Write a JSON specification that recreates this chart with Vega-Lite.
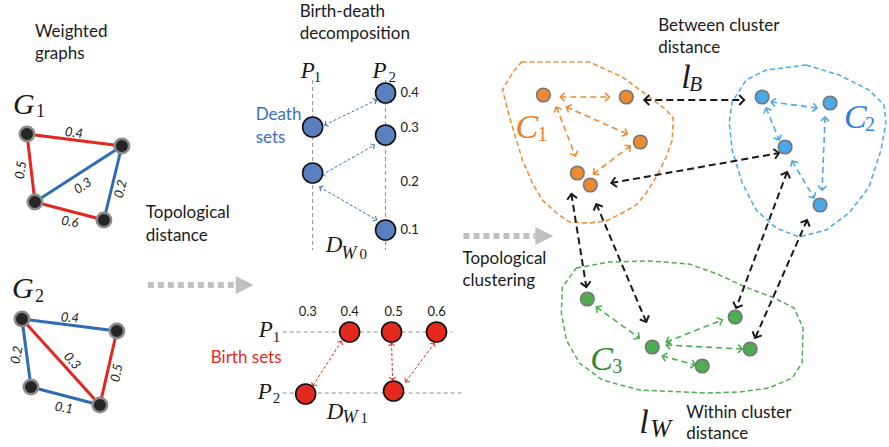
{
  "$schema": "https://vega.github.io/schema/vega-lite/v6.json",
  "width": 889,
  "height": 447,
  "padding": 0,
  "autosize": {"type": "fit", "contains": "padding"},
  "background": "white",
  "config": {"view": {"stroke": null}},
  "datasets": {
    "outlines": [
      {"cl": "C1", "col": "orange", "o": 1, "x": 522, "y": 62},
      {"cl": "C1", "col": "orange", "o": 2, "x": 590, "y": 62},
      {"cl": "C1", "col": "orange", "o": 3, "x": 623, "y": 77},
      {"cl": "C1", "col": "orange", "o": 4, "x": 650, "y": 97},
      {"cl": "C1", "col": "orange", "o": 5, "x": 667, "y": 110},
      {"cl": "C1", "col": "orange", "o": 6, "x": 674, "y": 118},
      {"cl": "C1", "col": "orange", "o": 7, "x": 673, "y": 140},
      {"cl": "C1", "col": "orange", "o": 8, "x": 667, "y": 157},
      {"cl": "C1", "col": "orange", "o": 9, "x": 657, "y": 177},
      {"cl": "C1", "col": "orange", "o": 10, "x": 647, "y": 193},
      {"cl": "C1", "col": "orange", "o": 11, "x": 637, "y": 205},
      {"cl": "C1", "col": "orange", "o": 12, "x": 623, "y": 213},
      {"cl": "C1", "col": "orange", "o": 13, "x": 607, "y": 221},
      {"cl": "C1", "col": "orange", "o": 14, "x": 590, "y": 223},
      {"cl": "C1", "col": "orange", "o": 15, "x": 570, "y": 222},
      {"cl": "C1", "col": "orange", "o": 16, "x": 557, "y": 213},
      {"cl": "C1", "col": "orange", "o": 17, "x": 543, "y": 200},
      {"cl": "C1", "col": "orange", "o": 18, "x": 533, "y": 183},
      {"cl": "C1", "col": "orange", "o": 19, "x": 523, "y": 160},
      {"cl": "C1", "col": "orange", "o": 20, "x": 517, "y": 140},
      {"cl": "C1", "col": "orange", "o": 21, "x": 510, "y": 117},
      {"cl": "C1", "col": "orange", "o": 22, "x": 505, "y": 97},
      {"cl": "C1", "col": "orange", "o": 23, "x": 503, "y": 90},
      {"cl": "C1", "col": "orange", "o": 24, "x": 513, "y": 73},
      {"cl": "C2", "col": "sky", "o": 1, "x": 807, "y": 65},
      {"cl": "C2", "col": "sky", "o": 2, "x": 840, "y": 75},
      {"cl": "C2", "col": "sky", "o": 3, "x": 870, "y": 90},
      {"cl": "C2", "col": "sky", "o": 4, "x": 885, "y": 105},
      {"cl": "C2", "col": "sky", "o": 5, "x": 887, "y": 122},
      {"cl": "C2", "col": "sky", "o": 6, "x": 882, "y": 150},
      {"cl": "C2", "col": "sky", "o": 7, "x": 870, "y": 187},
      {"cl": "C2", "col": "sky", "o": 8, "x": 850, "y": 213},
      {"cl": "C2", "col": "sky", "o": 9, "x": 827, "y": 230},
      {"cl": "C2", "col": "sky", "o": 10, "x": 800, "y": 237},
      {"cl": "C2", "col": "sky", "o": 11, "x": 777, "y": 228},
      {"cl": "C2", "col": "sky", "o": 12, "x": 757, "y": 210},
      {"cl": "C2", "col": "sky", "o": 13, "x": 743, "y": 183},
      {"cl": "C2", "col": "sky", "o": 14, "x": 733, "y": 150},
      {"cl": "C2", "col": "sky", "o": 15, "x": 730, "y": 123},
      {"cl": "C2", "col": "sky", "o": 16, "x": 733, "y": 102},
      {"cl": "C2", "col": "sky", "o": 17, "x": 747, "y": 80},
      {"cl": "C2", "col": "sky", "o": 18, "x": 767, "y": 70},
      {"cl": "C3", "col": "green", "o": 1, "x": 577, "y": 268},
      {"cl": "C3", "col": "green", "o": 2, "x": 610, "y": 262},
      {"cl": "C3", "col": "green", "o": 3, "x": 650, "y": 261},
      {"cl": "C3", "col": "green", "o": 4, "x": 690, "y": 264},
      {"cl": "C3", "col": "green", "o": 5, "x": 718, "y": 274},
      {"cl": "C3", "col": "green", "o": 6, "x": 746, "y": 287},
      {"cl": "C3", "col": "green", "o": 7, "x": 773, "y": 297},
      {"cl": "C3", "col": "green", "o": 8, "x": 795, "y": 308},
      {"cl": "C3", "col": "green", "o": 9, "x": 804, "y": 328},
      {"cl": "C3", "col": "green", "o": 10, "x": 803, "y": 363},
      {"cl": "C3", "col": "green", "o": 11, "x": 793, "y": 378},
      {"cl": "C3", "col": "green", "o": 12, "x": 770, "y": 388},
      {"cl": "C3", "col": "green", "o": 13, "x": 740, "y": 392},
      {"cl": "C3", "col": "green", "o": 14, "x": 707, "y": 393},
      {"cl": "C3", "col": "green", "o": 15, "x": 640, "y": 390},
      {"cl": "C3", "col": "green", "o": 16, "x": 603, "y": 380},
      {"cl": "C3", "col": "green", "o": 17, "x": 580, "y": 363},
      {"cl": "C3", "col": "green", "o": 18, "x": 567, "y": 340},
      {"cl": "C3", "col": "green", "o": 19, "x": 562, "y": 313},
      {"cl": "C3", "col": "green", "o": 20, "x": 563, "y": 287}
    ],
    "guides": [
      {"x": 313, "y": 80, "x2": 313, "y2": 250},
      {"x": 386, "y": 80, "x2": 386, "y2": 250},
      {"x": 283, "y": 332, "x2": 453, "y2": 332},
      {"x": 283, "y": 393, "x2": 462, "y2": 393}
    ],
    "flows": [
      {"x": 148, "x2": 236, "y": 285},
      {"x": 464, "x2": 536, "y": 236}
    ],
    "edges": [
      {"x": 27, "y": 134, "x2": 122, "y2": 146, "col": "gred"},
      {"x": 27, "y": 134, "x2": 35, "y2": 202, "col": "gred"},
      {"x": 35, "y": 202, "x2": 122, "y2": 146, "col": "gblue"},
      {"x": 122, "y": 146, "x2": 104, "y2": 220, "col": "gblue"},
      {"x": 35, "y": 202, "x2": 104, "y2": 220, "col": "gred"},
      {"x": 22, "y": 319, "x2": 117, "y2": 331, "col": "gblue"},
      {"x": 22, "y": 319, "x2": 31, "y2": 387, "col": "gblue"},
      {"x": 22, "y": 319, "x2": 100, "y2": 405, "col": "gred"},
      {"x": 117, "y": 331, "x2": 100, "y2": 405, "col": "gred"},
      {"x": 31, "y": 387, "x2": 100, "y2": 405, "col": "gblue"}
    ],
    "arrows": [
      {"kind": "between", "col": "ink", "x": 645, "y": 100, "x2": 745, "y2": 100},
      {"kind": "between", "col": "ink", "x": 612, "y": 183, "x2": 780, "y2": 153},
      {"kind": "between", "col": "ink", "x": 572, "y": 194, "x2": 587, "y2": 287},
      {"kind": "between", "col": "ink", "x": 597, "y": 204, "x2": 647, "y2": 322},
      {"kind": "between", "col": "ink", "x": 788, "y": 172, "x2": 737, "y2": 308},
      {"kind": "between", "col": "ink", "x": 808, "y": 220, "x2": 756, "y2": 338},
      {"kind": "within", "col": "orange", "x": 561, "y": 97, "x2": 610, "y2": 97},
      {"kind": "within", "col": "orange", "x": 567, "y": 107, "x2": 628, "y2": 134},
      {"kind": "within", "col": "orange", "x": 557, "y": 107, "x2": 576, "y2": 156},
      {"kind": "within", "col": "orange", "x": 631, "y": 146, "x2": 594, "y2": 174},
      {"kind": "within", "col": "sky", "x": 772, "y": 102, "x2": 818, "y2": 108},
      {"kind": "within", "col": "sky", "x": 767, "y": 108, "x2": 780, "y2": 140},
      {"kind": "within", "col": "sky", "x": 826, "y": 117, "x2": 823, "y2": 190},
      {"kind": "within", "col": "sky", "x": 793, "y": 161, "x2": 815, "y2": 198},
      {"kind": "within", "col": "green", "x": 597, "y": 307, "x2": 640, "y2": 338},
      {"kind": "within", "col": "green", "x": 667, "y": 342, "x2": 723, "y2": 320},
      {"kind": "within", "col": "green", "x": 667, "y": 345, "x2": 743, "y2": 349},
      {"kind": "within", "col": "green", "x": 663, "y": 356, "x2": 696, "y2": 365},
      {"kind": "pair", "col": "deathtxt", "x": 325, "y": 125, "x2": 377, "y2": 100},
      {"kind": "pair", "col": "deathtxt", "x": 322, "y": 175, "x2": 375, "y2": 145},
      {"kind": "pair", "col": "deathtxt", "x": 320, "y": 187, "x2": 377, "y2": 220},
      {"kind": "pair", "col": "birth", "x": 342, "y": 341, "x2": 313, "y2": 386},
      {"kind": "pair", "col": "birth", "x": 392, "y": 343, "x2": 393, "y2": 380},
      {"kind": "pair", "col": "birth", "x": 435, "y": 343, "x2": 406, "y2": 382}
    ],
    "nodes": [
      {"kind": "graph", "col": "gnode", "x": 27, "y": 134},
      {"kind": "graph", "col": "gnode", "x": 122, "y": 146},
      {"kind": "graph", "col": "gnode", "x": 35, "y": 202},
      {"kind": "graph", "col": "gnode", "x": 104, "y": 220},
      {"kind": "graph", "col": "gnode", "x": 22, "y": 319},
      {"kind": "graph", "col": "gnode", "x": 117, "y": 331},
      {"kind": "graph", "col": "gnode", "x": 31, "y": 387},
      {"kind": "graph", "col": "gnode", "x": 100, "y": 405},
      {"kind": "pd", "col": "death", "x": 313, "y": 127},
      {"kind": "pd", "col": "death", "x": 313, "y": 173},
      {"kind": "pd", "col": "death", "x": 386, "y": 93},
      {"kind": "pd", "col": "death", "x": 386, "y": 135},
      {"kind": "pd", "col": "death", "x": 386, "y": 230},
      {"kind": "pd", "col": "birth", "x": 350, "y": 332},
      {"kind": "pd", "col": "birth", "x": 392, "y": 332},
      {"kind": "pd", "col": "birth", "x": 437, "y": 332},
      {"kind": "pd", "col": "birth", "x": 306, "y": 394},
      {"kind": "pd", "col": "birth", "x": 394, "y": 391},
      {"kind": "cluster", "col": "orange", "x": 544, "y": 95},
      {"kind": "cluster", "col": "orange", "x": 627, "y": 97},
      {"kind": "cluster", "col": "orange", "x": 641, "y": 142},
      {"kind": "cluster", "col": "orange", "x": 578, "y": 173},
      {"kind": "cluster", "col": "orange", "x": 591, "y": 185},
      {"kind": "cluster", "col": "sky", "x": 763, "y": 97},
      {"kind": "cluster", "col": "sky", "x": 831, "y": 103},
      {"kind": "cluster", "col": "sky", "x": 786, "y": 147},
      {"kind": "cluster", "col": "sky", "x": 821, "y": 205},
      {"kind": "cluster", "col": "green", "x": 588, "y": 299},
      {"kind": "cluster", "col": "green", "x": 653, "y": 347},
      {"kind": "cluster", "col": "green", "x": 736, "y": 317},
      {"kind": "cluster", "col": "green", "x": 751, "y": 349},
      {"kind": "cluster", "col": "green", "x": 703, "y": 366}
    ],
    "notes": [
      {"role": "caption", "col": "ink", "t": "Weighted", "x": 35, "y": 32},
      {"role": "caption", "col": "ink", "t": "graphs", "x": 35, "y": 54},
      {"role": "caption", "col": "ink", "t": "Birth-death", "x": 300, "y": 12},
      {"role": "caption", "col": "ink", "t": "decomposition", "x": 300, "y": 34},
      {"role": "caption", "col": "ink", "t": "Topological", "x": 146, "y": 213},
      {"role": "caption", "col": "ink", "t": "distance", "x": 146, "y": 236},
      {"role": "caption", "col": "ink", "t": "Between cluster", "x": 659, "y": 26},
      {"role": "caption", "col": "ink", "t": "distance", "x": 659, "y": 48},
      {"role": "caption", "col": "ink", "t": "Topological", "x": 463, "y": 259},
      {"role": "caption", "col": "ink", "t": "clustering", "x": 463, "y": 281},
      {"role": "caption", "col": "ink", "t": "Within cluster", "x": 687, "y": 413},
      {"role": "caption", "col": "ink", "t": "distance", "x": 687, "y": 434},
      {"role": "setname", "col": "deathtxt", "t": "Death", "x": 256, "y": 115},
      {"role": "setname", "col": "deathtxt", "t": "sets", "x": 256, "y": 138},
      {"role": "setname", "col": "birth", "t": "Birth sets", "x": 211, "y": 358},
      {"role": "value", "col": "ink", "t": "0.4", "x": 401, "y": 93},
      {"role": "value", "col": "ink", "t": "0.3", "x": 401, "y": 128},
      {"role": "value", "col": "ink", "t": "0.2", "x": 401, "y": 182},
      {"role": "value", "col": "ink", "t": "0.1", "x": 401, "y": 230},
      {"role": "value", "col": "ink", "t": "0.3", "x": 299, "y": 312},
      {"role": "value", "col": "ink", "t": "0.4", "x": 341, "y": 312},
      {"role": "value", "col": "ink", "t": "0.5", "x": 385, "y": 312},
      {"role": "value", "col": "ink", "t": "0.6", "x": 428, "y": 312}
    ],
    "weights": [
      {"t": "0.4", "x": 74, "y": 133, "rot": 6},
      {"t": "0.5", "x": 21, "y": 170, "rot": -83},
      {"t": "0.3", "x": 83, "y": 186, "rot": -33},
      {"t": "0.2", "x": 121, "y": 189, "rot": -76},
      {"t": "0.6", "x": 70, "y": 222, "rot": 9},
      {"t": "0.4", "x": 70, "y": 318, "rot": 5},
      {"t": "0.2", "x": 17, "y": 355, "rot": -80},
      {"t": "0.3", "x": 72, "y": 361, "rot": 48},
      {"t": "0.5", "x": 117, "y": 373, "rot": -78},
      {"t": "0.1", "x": 64, "y": 408, "rot": 9}
    ],
    "math": [
      {"role": "graph", "col": "ink", "t": "G", "x": 13, "y": 114},
      {"role": "graph", "col": "ink", "t": "G", "x": 12, "y": 298},
      {"role": "graphsub", "col": "ink", "t": "1", "x": 36, "y": 117},
      {"role": "graphsub", "col": "ink", "t": "2", "x": 35, "y": 302},
      {"role": "persist", "col": "ink", "t": "P", "x": 301, "y": 78},
      {"role": "persist", "col": "ink", "t": "P", "x": 373, "y": 78},
      {"role": "persist", "col": "ink", "t": "D", "x": 326, "y": 252},
      {"role": "persist", "col": "ink", "t": "P", "x": 259, "y": 337},
      {"role": "persist", "col": "ink", "t": "P", "x": 258, "y": 399},
      {"role": "persist", "col": "ink", "t": "D", "x": 327, "y": 419},
      {"role": "persistsub", "col": "ink", "t": "1", "x": 314, "y": 82},
      {"role": "persistsub", "col": "ink", "t": "2", "x": 389, "y": 82},
      {"role": "persistsub", "col": "ink", "t": "0", "x": 360, "y": 259},
      {"role": "persistsub", "col": "ink", "t": "1", "x": 273, "y": 342},
      {"role": "persistsub", "col": "ink", "t": "2", "x": 273, "y": 403},
      {"role": "persistsub", "col": "ink", "t": "1", "x": 361, "y": 423},
      {"role": "persistW", "col": "ink", "t": "W", "x": 342, "y": 259},
      {"role": "persistW", "col": "ink", "t": "W", "x": 343, "y": 423},
      {"role": "cluster", "col": "c1", "t": "C", "x": 516, "y": 138},
      {"role": "cluster", "col": "c2", "t": "C", "x": 845, "y": 128},
      {"role": "cluster", "col": "c3", "t": "C", "x": 591, "y": 370},
      {"role": "cluster", "col": "ink", "t": "l", "x": 682, "y": 88},
      {"role": "cluster", "col": "ink", "t": "l", "x": 640, "y": 433},
      {"role": "clustersub", "col": "c1", "t": "1", "x": 538, "y": 141},
      {"role": "clustersub", "col": "c2", "t": "2", "x": 866, "y": 131},
      {"role": "clustersub", "col": "c3", "t": "3", "x": 613, "y": 373},
      {"role": "distB", "col": "ink", "t": "B", "x": 690, "y": 91},
      {"role": "distW", "col": "ink", "t": "W", "x": 651, "y": 437}
    ]
  },
  "encoding": {
    "x": {"field": "x", "type": "quantitative", "scale": {"domain": [0, 889], "nice": false, "zero": false}, "axis": null},
    "y": {"field": "y", "type": "quantitative", "scale": {"domain": [0, 447], "nice": false, "zero": false, "reverse": true}, "axis": null}
  },
  "layer": [
    {
      "data": {"name": "outlines"},
      "mark": {"type": "line", "interpolate": "linear-closed", "strokeDash": [5, 3], "strokeWidth": 1.5},
      "encoding": {
        "color": {"field": "col", "type": "nominal", "legend": null, "scale": {"domain": ["ink", "gnode", "gred", "gblue", "death", "deathtxt", "birth", "orange", "sky", "green", "c1", "c2", "c3"], "range": ["#1a1a1a", "#262626", "#e3261f", "#2e6cb5", "#5b80c0", "#3a6fc2", "#e5281e", "#ee8a2f", "#4aa9e8", "#4dae4f", "#ee7d22", "#2f7ce6", "#2e8a2c"]}},
        "detail": {"field": "cl"},
        "order": {"field": "o", "type": "quantitative"}
      }
    },
    {
      "data": {"name": "guides"},
      "mark": {"type": "rule", "strokeDash": [4, 3], "strokeWidth": 1, "color": "#8c8c8c"},
      "encoding": {"x2": {"field": "x2"}, "y2": {"field": "y2"}}
    },
    {
      "data": {"name": "flows"},
      "mark": {"type": "rule", "strokeDash": [6, 4], "strokeWidth": 6, "color": "#c0c0c0"},
      "encoding": {"x2": {"field": "x2"}}
    },
    {
      "data": {"name": "flows"},
      "mark": {"type": "point", "shape": "M0,-1L2,0L0,1Z", "filled": true, "size": 324, "color": "#c0c0c0", "opacity": 1},
      "encoding": {"x": {"field": "x2", "type": "quantitative"}}
    },
    {
      "data": {"name": "edges"},
      "mark": {"type": "rule", "strokeWidth": 3},
      "encoding": {
        "x2": {"field": "x2"}, "y2": {"field": "y2"},
        "color": {"field": "col", "type": "nominal", "legend": null}
      }
    },
    {
      "data": {"name": "arrows"},
      "transform": [{"filter": "datum.kind == 'between'"}],
      "mark": {"type": "rule", "strokeWidth": 2, "strokeDash": [7, 4]},
      "encoding": {"x2": {"field": "x2"}, "y2": {"field": "y2"}, "color": {"field": "col", "type": "nominal", "legend": null}}
    },
    {
      "data": {"name": "arrows"},
      "transform": [{"filter": "datum.kind == 'within'"}],
      "mark": {"type": "rule", "strokeWidth": 1.6, "strokeDash": [6, 4]},
      "encoding": {"x2": {"field": "x2"}, "y2": {"field": "y2"}, "color": {"field": "col", "type": "nominal", "legend": null}}
    },
    {
      "data": {"name": "arrows"},
      "transform": [{"filter": "datum.kind == 'pair'"}],
      "mark": {"type": "rule", "strokeWidth": 1, "strokeDash": [3, 2]},
      "encoding": {"x2": {"field": "x2"}, "y2": {"field": "y2"}, "color": {"field": "col", "type": "nominal", "legend": null}}
    },
    {
      "data": {"name": "arrows"},
      "transform": [{"filter": "datum.kind == 'between'"}, {"calculate": "atan2(datum.y2 - datum.y, datum.x2 - datum.x) * 180 / PI", "as": "a2"}],
      "mark": {"type": "point", "shape": "M-1,-1L0,0L-1,1", "filled": false, "size": 100, "strokeWidth": 2, "opacity": 1},
      "encoding": {"x": {"field": "x2", "type": "quantitative"}, "y": {"field": "y2", "type": "quantitative"}, "angle": {"field": "a2", "type": "quantitative", "scale": null}, "color": {"field": "col", "type": "nominal", "legend": null}}
    },
    {
      "data": {"name": "arrows"},
      "transform": [{"filter": "datum.kind == 'between'"}, {"calculate": "atan2(datum.y - datum.y2, datum.x - datum.x2) * 180 / PI", "as": "a1"}],
      "mark": {"type": "point", "shape": "M-1,-1L0,0L-1,1", "filled": false, "size": 100, "strokeWidth": 2, "opacity": 1},
      "encoding": {"angle": {"field": "a1", "type": "quantitative", "scale": null}, "color": {"field": "col", "type": "nominal", "legend": null}}
    },
    {
      "data": {"name": "arrows"},
      "transform": [{"filter": "datum.kind == 'within'"}, {"calculate": "atan2(datum.y2 - datum.y, datum.x2 - datum.x) * 180 / PI", "as": "a2"}],
      "mark": {"type": "point", "shape": "M-1,-1L0,0L-1,1", "filled": false, "size": 70, "strokeWidth": 1.6, "opacity": 1},
      "encoding": {"x": {"field": "x2", "type": "quantitative"}, "y": {"field": "y2", "type": "quantitative"}, "angle": {"field": "a2", "type": "quantitative", "scale": null}, "color": {"field": "col", "type": "nominal", "legend": null}}
    },
    {
      "data": {"name": "arrows"},
      "transform": [{"filter": "datum.kind == 'within'"}, {"calculate": "atan2(datum.y - datum.y2, datum.x - datum.x2) * 180 / PI", "as": "a1"}],
      "mark": {"type": "point", "shape": "M-1,-1L0,0L-1,1", "filled": false, "size": 70, "strokeWidth": 1.6, "opacity": 1},
      "encoding": {"angle": {"field": "a1", "type": "quantitative", "scale": null}, "color": {"field": "col", "type": "nominal", "legend": null}}
    },
    {
      "data": {"name": "arrows"},
      "transform": [{"filter": "datum.kind == 'pair'"}, {"calculate": "atan2(datum.y2 - datum.y, datum.x2 - datum.x) * 180 / PI", "as": "a2"}],
      "mark": {"type": "point", "shape": "M-1,-1L0,0L-1,1", "filled": false, "size": 36, "strokeWidth": 1, "opacity": 1},
      "encoding": {"x": {"field": "x2", "type": "quantitative"}, "y": {"field": "y2", "type": "quantitative"}, "angle": {"field": "a2", "type": "quantitative", "scale": null}, "color": {"field": "col", "type": "nominal", "legend": null}}
    },
    {
      "data": {"name": "arrows"},
      "transform": [{"filter": "datum.kind == 'pair'"}, {"calculate": "atan2(datum.y - datum.y2, datum.x - datum.x2) * 180 / PI", "as": "a1"}],
      "mark": {"type": "point", "shape": "M-1,-1L0,0L-1,1", "filled": false, "size": 36, "strokeWidth": 1, "opacity": 1},
      "encoding": {"angle": {"field": "a1", "type": "quantitative", "scale": null}, "color": {"field": "col", "type": "nominal", "legend": null}}
    },
    {
      "data": {"name": "nodes"},
      "transform": [{"filter": "datum.kind == 'graph'"}],
      "mark": {"type": "circle", "size": 210, "stroke": "#8a8a8a", "strokeWidth": 2.5, "opacity": 1},
      "encoding": {"color": {"field": "col", "type": "nominal", "legend": null}}
    },
    {
      "data": {"name": "nodes"},
      "transform": [{"filter": "datum.kind == 'pd'"}],
      "mark": {"type": "circle", "size": 400, "stroke": "#111111", "strokeWidth": 1.6, "opacity": 1},
      "encoding": {"color": {"field": "col", "type": "nominal", "legend": null}}
    },
    {
      "data": {"name": "nodes"},
      "transform": [{"filter": "datum.kind == 'cluster'"}],
      "mark": {"type": "circle", "size": 185, "stroke": "#777777", "strokeWidth": 1.6, "opacity": 1},
      "encoding": {"color": {"field": "col", "type": "nominal", "legend": null}}
    },
    {
      "data": {"name": "notes"},
      "transform": [{"filter": "datum.role == 'caption'"}],
      "mark": {"type": "text", "align": "left", "baseline": "middle", "font": "Lato", "fontSize": 17},
      "encoding": {"text": {"field": "t"}, "color": {"field": "col", "type": "nominal", "legend": null}}
    },
    {
      "data": {"name": "notes"},
      "transform": [{"filter": "datum.role == 'setname'"}],
      "mark": {"type": "text", "align": "left", "baseline": "middle", "font": "Lato", "fontSize": 17},
      "encoding": {"text": {"field": "t"}, "color": {"field": "col", "type": "nominal", "legend": null}}
    },
    {
      "data": {"name": "notes"},
      "transform": [{"filter": "datum.role == 'value'"}],
      "mark": {"type": "text", "align": "left", "baseline": "middle", "font": "Lato", "fontSize": 13},
      "encoding": {"text": {"field": "t"}, "color": {"field": "col", "type": "nominal", "legend": null}}
    },
    {
      "data": {"name": "weights"},
      "mark": {"type": "text", "align": "center", "baseline": "middle", "font": "Lato", "fontSize": 13, "fontStyle": "italic", "color": "#1a1a1a"},
      "encoding": {"text": {"field": "t"}, "angle": {"field": "rot", "type": "quantitative", "scale": null}}
    },
    {
      "data": {"name": "math"},
      "transform": [{"filter": "datum.role == 'graph'"}],
      "mark": {"type": "text", "align": "left", "baseline": "alphabetic", "font": "Liberation Serif", "fontStyle": "italic", "fontSize": 30},
      "encoding": {"text": {"field": "t"}, "color": {"field": "col", "type": "nominal", "legend": null}}
    },
    {
      "data": {"name": "math"},
      "transform": [{"filter": "datum.role == 'graphsub'"}],
      "mark": {"type": "text", "align": "left", "baseline": "alphabetic", "font": "Liberation Serif", "fontSize": 18},
      "encoding": {"text": {"field": "t"}, "color": {"field": "col", "type": "nominal", "legend": null}}
    },
    {
      "data": {"name": "math"},
      "transform": [{"filter": "datum.role == 'persist'"}],
      "mark": {"type": "text", "align": "left", "baseline": "alphabetic", "font": "Liberation Serif", "fontStyle": "italic", "fontSize": 23},
      "encoding": {"text": {"field": "t"}, "color": {"field": "col", "type": "nominal", "legend": null}}
    },
    {
      "data": {"name": "math"},
      "transform": [{"filter": "datum.role == 'persistsub'"}],
      "mark": {"type": "text", "align": "left", "baseline": "alphabetic", "font": "Liberation Serif", "fontSize": 15},
      "encoding": {"text": {"field": "t"}, "color": {"field": "col", "type": "nominal", "legend": null}}
    },
    {
      "data": {"name": "math"},
      "transform": [{"filter": "datum.role == 'persistW'"}],
      "mark": {"type": "text", "align": "left", "baseline": "alphabetic", "font": "Liberation Serif", "fontStyle": "italic", "fontSize": 18},
      "encoding": {"text": {"field": "t"}, "color": {"field": "col", "type": "nominal", "legend": null}}
    },
    {
      "data": {"name": "math"},
      "transform": [{"filter": "datum.role == 'cluster'"}],
      "mark": {"type": "text", "align": "left", "baseline": "alphabetic", "font": "Liberation Serif", "fontStyle": "italic", "fontSize": 34},
      "encoding": {"text": {"field": "t"}, "color": {"field": "col", "type": "nominal", "legend": null}}
    },
    {
      "data": {"name": "math"},
      "transform": [{"filter": "datum.role == 'clustersub'"}],
      "mark": {"type": "text", "align": "left", "baseline": "alphabetic", "font": "Liberation Serif", "fontSize": 20},
      "encoding": {"text": {"field": "t"}, "color": {"field": "col", "type": "nominal", "legend": null}}
    },
    {
      "data": {"name": "math"},
      "transform": [{"filter": "datum.role == 'distB'"}],
      "mark": {"type": "text", "align": "left", "baseline": "alphabetic", "font": "Liberation Serif", "fontStyle": "italic", "fontSize": 21},
      "encoding": {"text": {"field": "t"}, "color": {"field": "col", "type": "nominal", "legend": null}}
    },
    {
      "data": {"name": "math"},
      "transform": [{"filter": "datum.role == 'distW'"}],
      "mark": {"type": "text", "align": "left", "baseline": "alphabetic", "font": "Liberation Serif", "fontStyle": "italic", "fontSize": 25},
      "encoding": {"text": {"field": "t"}, "color": {"field": "col", "type": "nominal", "legend": null}}
    }
  ]
}
